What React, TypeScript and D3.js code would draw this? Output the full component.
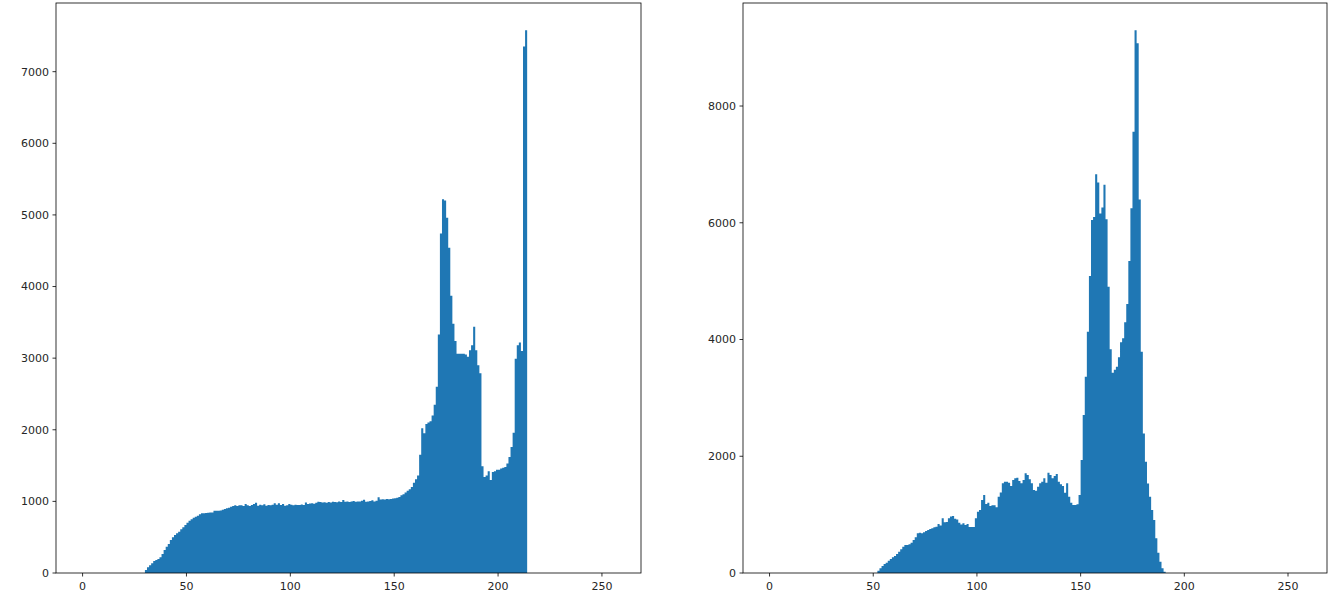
import React from 'react';
import * as d3 from 'd3';

// first non-empty bin of each histogram, then the counts of consecutive bins (bin width = 1)
const leftStart = 30;
const leftCounts = [
  42, 80, 107, 135, 168, 182, 196, 219, 265, 321,
  367, 405, 461, 498, 531, 554, 577, 610, 638, 670,
  703, 731, 750, 773, 787, 801, 820, 834, 834, 838,
  843, 846, 846, 870, 870, 868, 872, 884, 894, 903,
  912, 926, 936, 945, 936, 945, 945, 936, 964, 945,
  936, 950, 964, 982, 940, 954, 945, 959, 940, 950,
  945, 954, 973, 954, 973, 950, 964, 940, 945, 964,
  954, 945, 954, 950, 950, 955, 948, 985, 965, 970,
  975, 968, 980, 995, 990, 985, 988, 980, 990, 985,
  995, 992, 988, 998, 990, 1020, 995, 1000, 990, 998,
  1005, 995, 1000, 998, 1010, 1022, 995, 1000, 1005, 1015,
  1000, 1010, 1057, 1025, 1030, 1028, 1032, 1030, 1035, 1040,
  1045, 1050, 1060, 1085, 1100, 1125, 1150, 1170, 1200, 1260,
  1310, 1360, 1650, 2020, 1950, 2080, 2100, 2120, 2200, 2350,
  2600, 3330, 4740, 5220, 5200, 4960, 4540, 3870, 3480, 3240,
  3060, 3060, 3060, 3060, 3050, 3020, 3110, 3180, 3440, 3110,
  2900, 2790, 1490, 1340, 1360, 1420, 1300, 1410, 1420, 1440,
  1440, 1460, 1470, 1480, 1530, 1620, 1760, 1960, 2990, 3180,
  3220, 3100, 7350, 7580,
];

const rightStart = 52;
const rightCounts = [
  40, 80, 120, 154, 177, 211, 240, 268, 291, 326,
  366, 405, 451, 480, 480, 491, 520, 566, 611, 680,
  691, 680, 697, 720, 737, 754, 766, 783, 794, 840,
  815, 937, 870, 875, 937, 966, 977, 930, 915, 863,
  830, 851, 822, 840, 790, 790, 790, 937, 1050, 1080,
  1251, 1337, 1180, 1205, 1148, 1160, 1160, 1125, 1308, 1380,
  1536, 1565, 1565, 1548, 1490, 1593, 1622, 1630, 1576, 1536,
  1593, 1707, 1679, 1605, 1536, 1422, 1410, 1479, 1536, 1565,
  1622, 1548, 1719, 1679, 1622, 1662, 1696, 1565, 1519, 1490,
  1376, 1536, 1308, 1205, 1165, 1165, 1177, 1337, 1936, 2707,
  3363, 4134, 5088, 6047, 6100, 6830, 6690, 6160, 6260, 6650,
  6060, 4904, 3832, 3432, 3480, 3535, 3695, 3952, 4020, 4294,
  4608, 5345, 6247, 7560, 9300, 9075, 6400, 3791, 2392, 1906,
  1535, 1307, 1080, 908, 594, 349, 194, 80, 23,
];

const xTicks = [0, 50, 100, 150, 200, 250];
const leftYTicks = [0, 1000, 2000, 3000, 4000, 5000, 6000, 7000];
const rightYTicks = [0, 2000, 4000, 6000, 8000];

const W = 1337;
const H = 604;
const TOP = 3;
const BOTTOM = 573;
const BAR = '#1f77b4';
const FONT = '"DejaVu Sans", sans-serif';

const Hist = ({ left, right, start, counts, yTicks }) => {
  // matplotlib style: 5% margin each side on x, top = max * 1.05
  const x = d3.scaleLinear().domain([-12.8, 268.8]).range([left, right]);
  const y = d3.scaleLinear().domain([0, d3.max(counts) * 1.05]).range([BOTTOM, TOP]);

  // bins as step points; the closing point carries the last count to the right edge
  const pts = counts.map((c, i) => ({ k: start + i, c }));
  pts.push({ k: start + counts.length, c: counts[counts.length - 1] });
  const area = d3.area()
    .x(d => x(d.k))
    .y0(BOTTOM)
    .y1(d => y(d.c))
    .curve(d3.curveStepAfter);

  return (
    <g>
      <path d={area(pts)} fill={BAR} />
      <rect x={left} y={TOP} width={right - left} height={BOTTOM - TOP} fill="none" stroke="#000" strokeWidth={0.8} />
      {xTicks.map(t => (
        <g key={'x' + t} transform={`translate(${x(t)},${BOTTOM})`}>
          <line y2={3.5} stroke="#000" strokeWidth={0.8} />
          <text y={17} textAnchor="middle" fontSize={11} fontFamily={FONT} fill="#262626">{t}</text>
        </g>
      ))}
      {yTicks.map(t => (
        <g key={'y' + t} transform={`translate(${left},${y(t)})`}>
          <line x2={-3.5} stroke="#000" strokeWidth={0.8} />
          <text x={-7} dy="0.35em" textAnchor="end" fontSize={11} fontFamily={FONT} fill="#262626">{t}</text>
        </g>
      ))}
    </g>
  );
};

export default function App() {
  return (
    <svg width={W} height={H} style={{ position: 'absolute', left: 0, top: 0, background: '#fff' }}>
      <Hist left={56} right={641} start={leftStart} counts={leftCounts} yTicks={leftYTicks} />
      <Hist left={743} right={1327} start={rightStart} counts={rightCounts} yTicks={rightYTicks} />
    </svg>
  );
}
